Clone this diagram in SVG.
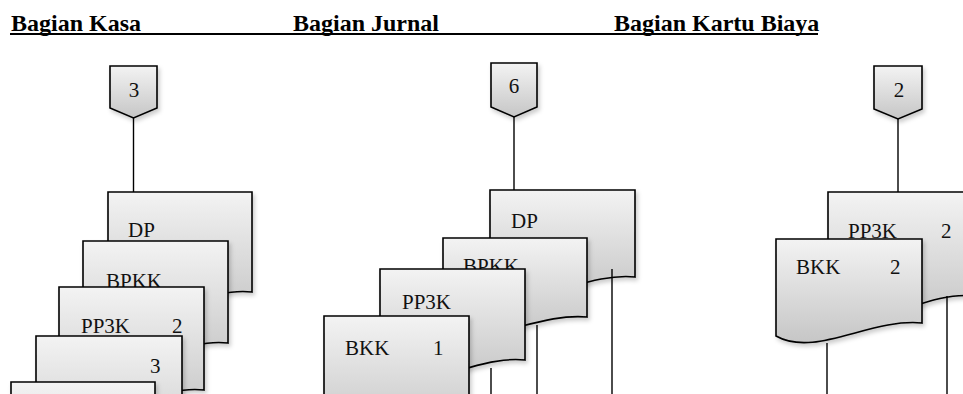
<svg xmlns="http://www.w3.org/2000/svg" width="963" height="394" viewBox="0 0 963 394">
  <defs>
    <linearGradient id="docFill" x1="0" y1="0" x2="0" y2="1">
      <stop offset="0" stop-color="#f3f3f3"/>
      <stop offset="1" stop-color="#c6c6c6"/>
    </linearGradient>
    <filter id="softShadow" x="-10%" y="-10%" width="130%" height="130%">
      <feDropShadow dx="2" dy="3" stdDeviation="2" flood-color="#000" flood-opacity="0.2"/>
    </filter>
    <style>
      .shape { fill: url(#docFill); stroke: #000; stroke-width: 1.6; stroke-linejoin: miter; filter: url(#softShadow); }
      .lbl { font-family: "Liberation Serif", "Times New Roman", serif; font-size: 21px; fill: #111; }
      .mid { text-anchor: middle; }
      .head { font-family: "Liberation Serif", "Times New Roman", serif; font-size: 24px; font-weight: bold; fill: #000; }
      .conn { stroke: #000; stroke-width: 1.4; fill: none; }
    </style>
  </defs>

  <rect width="963" height="394" fill="#fff"/>

  <!-- lane headings -->
  <g id="headings">
    <text class="head" x="11" y="31">Bagian Kasa</text>
    <text class="head" x="293" y="31">Bagian Jurnal</text>
    <text class="head" x="614" y="31">Bagian Kartu Biaya</text>
    <line x1="10" y1="34" x2="818" y2="34" stroke="#000" stroke-width="2.2"/>
  </g>

  <!-- Bagian Kasa -->
  <g id="offpage-3">
    <path class="shape" d="M110,66 H157 V108 L133.5,118 L110,108 Z"/>
    <text class="lbl mid" x="134" y="97">3</text>
  </g>
  <g id="kasa-dp">
    <path class="shape" d="M108,192 H252 V292 C200.7,286 146.4,333.7 108,307.5 Z"/>
    <text class="lbl" x="128" y="237">DP</text>
  </g>
  <g id="kasa-bpkk">
    <path class="shape" d="M83,241 H228 V343 C176.4,336.9 121.7,385.5 83,358.8 Z"/>
    <text class="lbl" x="106" y="288">BPKK</text>
  </g>
  <g id="kasa-pp3k">
    <path class="shape" d="M59,287 H204 V390 C152.4,383.8 97.7,433 59,406 Z"/>
    <text class="lbl" x="81" y="333">PP3K</text>
    <text class="lbl" x="172" y="333">2</text>
  </g>
  <g id="kasa-copy3">
    <path class="shape" d="M36,336 H182 V439 C130,432.8 75,482 36,455 Z"/>
    <text class="lbl" x="150" y="373">3</text>
  </g>
  <g id="kasa-bottom">
    <path class="shape" d="M11,382 H155 V485 C103.7,478.8 49.4,528 11,501 Z"/>
  </g>

  <!-- Bagian Jurnal -->
  <g id="offpage-6">
    <path class="shape" d="M491,63 H537 V107 L514,117 L491,107 Z"/>
    <text class="lbl mid" x="514" y="93">6</text>
  </g>
  <g id="jurnal-dp">
    <path class="shape" d="M490,190 H635 V277 C583.4,271.8 528.7,313.3 490,290.5 Z"/>
    <text class="lbl" x="511" y="228">DP</text>
  </g>
  <g id="jurnal-bpkk">
    <path class="shape" d="M443,238 H587 V317 C535.7,312.3 481.4,349.9 443,329.2 Z"/>
    <text class="lbl" x="463" y="273">BPKK</text>
  </g>
  <g id="jurnal-pp3k">
    <path class="shape" d="M380,269 H525 V360 C473.4,354.5 418.7,398 380,374.1 Z"/>
    <text class="lbl" x="402" y="309">PP3K</text>
  </g>
  <g id="jurnal-bkk">
    <path class="shape" d="M324,316 H469 V411 C417.4,405.3 362.7,450.6 324,425.7 Z"/>
    <text class="lbl" x="345" y="355">BKK</text>
    <text class="lbl" x="433" y="355">1</text>
  </g>

  <!-- Bagian Kartu Biaya -->
  <g id="offpage-2">
    <path class="shape" d="M874,66 H922 V109 L898,119 L874,109 Z"/>
    <text class="lbl mid" x="899" y="97">2</text>
  </g>
  <g id="biaya-pp3k">
    <path class="shape" d="M828,192 H974 V296 C922,289.8 867,339.4 828,312.1 Z"/>
    <text class="lbl" x="848" y="238">PP3K</text>
    <text class="lbl" x="941" y="238">2</text>
  </g>
  <g id="biaya-bkk">
    <path class="shape" d="M776,239 H922 V323 C870,318 815,358 776,336 Z"/>
    <text class="lbl" x="796" y="274">BKK</text>
    <text class="lbl" x="890" y="274">2</text>
  </g>

  <!-- connectors -->
  <g id="connectors">
    <line class="conn" x1="133.5" y1="118" x2="133.5" y2="192"/>
    <line class="conn" x1="514" y1="117" x2="514" y2="190"/>
    <line class="conn" x1="898" y1="119" x2="898" y2="192"/>
    <line class="conn" x1="612" y1="269" x2="612" y2="394"/>
    <line class="conn" x1="537" y1="325" x2="537" y2="394"/>
    <line class="conn" x1="491" y1="368" x2="491" y2="394"/>
    <line class="conn" x1="827" y1="343" x2="827" y2="394"/>
    <line class="conn" x1="947" y1="296" x2="947" y2="394"/>
  </g>
</svg>
